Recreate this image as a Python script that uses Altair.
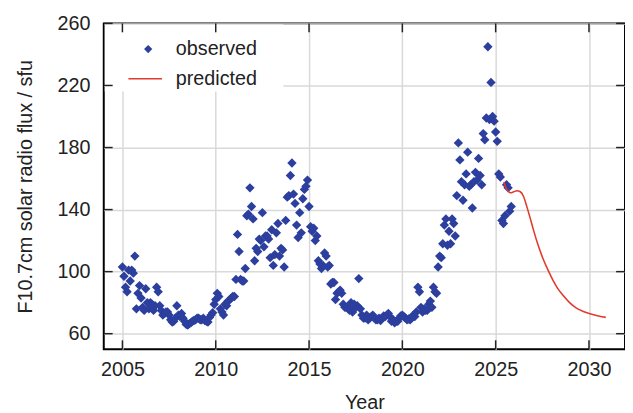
import altair as alt
import pandas as pd

# Monthly observed F10.7 (sfu), one list per year, January first
obs_2005 = [103, 97, 90, 87, 101, 94, 101, 99, 110, 76, 86, 91]
obs_2006 = [83, 77, 75, 89, 80, 76, 80, 79, 75, 78, 90, 87]
obs_2007 = [78, 75, 72, 73, 74, 74, 72, 69, 67.5, 68, 70, 78]
obs_2008 = [72, 71, 73, 70, 68, 66, 65.5, 66.5, 67, 68, 68.5, 69]
obs_2009 = [70, 70, 69, 69, 70, 68.5, 68, 67.5, 70.5, 72, 73.5, 79]
obs_2010 = [82, 86, 84, 76, 74, 72, 79, 78, 81, 82, 83, 84]
obs_2011 = [84, 95, 124, 113, 95, 94, 94, 102, 136, 137, 154, 142]
obs_2012 = [134, 107, 115, 113, 121, 120, 138, 116, 123, 123, 121, 109]
obs_2013 = [127, 104, 111, 125, 131, 110, 115, 114, 103, 133, 148, 149]
obs_2014 = [162, 170, 150, 144, 130, 122, 138, 125, 147, 153, 155, 159]
obs_2015 = [142, 129, 126, 128, 120, 123, 107, 105, 102, 104, 112, 110]
obs_2016 = [103, 104, 92, 93, 93, 82, 86, 87, 88, 86, 79, 77]
obs_2017 = [77, 77, 75, 80, 74, 79, 77, 78, 95.5, 76, 72, 70]
obs_2018 = [70, 72, 69, 70, 71, 72, 70, 69, 69, 70, 68.5, 70]
obs_2019 = [71.5, 71, 72, 73, 71, 68, 69, 67, 68, 68, 70, 71.5]
obs_2020 = [72, 71, 70, 69, 69.5, 69, 70, 72, 71, 74, 90, 87]
obs_2021 = [77, 74, 76, 75, 75, 79, 81, 77, 90, 87, 86, 103]
obs_2022 = [110, 109, 118, 130, 134, 117, 126, 118, 134, 131, 123, 149]
obs_2023 = [183, 172, 158, 146, 156, 163, 177, 155, 156, 141, 158, 164]
obs_2024 = [159, 173, 162, 156, 189, 185, 199, 245, 198, 222, 200, 197]
obs_2025 = [190, 184, 163, 161, 133, 131, 136, 156, 154, 139, 142]

obs_years = {
    2005: obs_2005, 2006: obs_2006, 2007: obs_2007, 2008: obs_2008,
    2009: obs_2009, 2010: obs_2010, 2011: obs_2011, 2012: obs_2012,
    2013: obs_2013, 2014: obs_2014, 2015: obs_2015, 2016: obs_2016,
    2017: obs_2017, 2018: obs_2018, 2019: obs_2019, 2020: obs_2020,
    2021: obs_2021, 2022: obs_2022, 2023: obs_2023, 2024: obs_2024,
    2025: obs_2025,
}

# Predicted curve
pred_t = [2025.44, 2025.53, 2025.65, 2025.79, 2025.97, 2026.14, 2026.32, 2026.5,
          2026.67, 2026.85, 2027.02, 2027.29, 2027.55, 2027.82, 2028.08, 2028.34,
          2028.61, 2028.96, 2029.31, 2029.66, 2030.01, 2030.45, 2030.9]
pred_v = [157.8, 154.6, 152.1, 150.8, 151.5, 152.1, 151.5, 148.3,
          141.9, 134.5, 127.1, 116.5, 108, 100.6, 94.2, 88.9,
          84.7, 80, 76.6, 74.5, 73, 71.6, 70.5]

x_ticks = [2005, 2010, 2015, 2020, 2025, 2030]
y_ticks = [60, 100, 140, 180, 220, 260]

obs_rows = []
for yr, vals in obs_years.items():
    for i, v in enumerate(vals):
        obs_rows.append({"t": yr + i / 12.0, "v": v, "s_obs": "observed"})
obs_df = pd.DataFrame(obs_rows)
pred_df = pd.DataFrame({"t": pred_t, "v": pred_v, "s_pred": "predicted"})
xt_df = pd.DataFrame({"t": x_ticks})
yt_df = pd.DataFrame({"v": y_ticks})

W, H = 528, 330
FONT = "Liberation Sans"
TICK = 9

xscale = alt.Scale(domain=[2004, 2031.93], nice=False, zero=False)
yscale = alt.Scale(domain=[50, 260], nice=False, zero=False)
xaxis = alt.Axis(values=x_ticks, format="d", title="Year", grid=True,
                 gridColor="#d9d9d9", gridWidth=1.5, domain=False, ticks=False,
                 tickSize=0, labelFont=FONT, labelFontSize=20, labelColor="#222",
                 labelPadding=11, titleFont=FONT, titleFontSize=20,
                 titleFontWeight="normal", titleColor="#222", titlePadding=13)
yaxis = alt.Axis(values=y_ticks, title="F10.7cm solar radio flux / sfu", grid=True,
                 gridColor="#d9d9d9", gridWidth=1.5, domain=False, ticks=False,
                 tickSize=0, labelFont=FONT, labelFontSize=20, labelColor="#222",
                 labelPadding=14, titleFont=FONT, titleFontSize=20,
                 titleFontWeight="normal", titleColor="#222", titlePadding=22)

X = alt.X("t:Q", scale=xscale, axis=xaxis)
Y = alt.Y("v:Q", scale=yscale, axis=yaxis)

legend_bg = alt.Chart(alt.Data(values=[{"a": 1}])).mark_rect(
    color="white", opacity=1
).encode(x=alt.value(1), x2=alt.value(182), y=alt.value(1), y2=alt.value(69))

tick_col = "#222222"
bottom_ticks = alt.Chart(xt_df).mark_rule(color=tick_col, strokeWidth=1.5).encode(
    x=X, y=alt.value(H), y2=alt.value(H - TICK))
top_ticks = alt.Chart(xt_df).mark_rule(color=tick_col, strokeWidth=1.5).encode(
    x=X, y=alt.value(0), y2=alt.value(TICK))
left_ticks = alt.Chart(yt_df).mark_rule(color=tick_col, strokeWidth=1.5).encode(
    y=Y, x=alt.value(0), x2=alt.value(TICK))
right_ticks = alt.Chart(yt_df).mark_rule(color=tick_col, strokeWidth=1.5).encode(
    y=Y, x=alt.value(W), x2=alt.value(W - TICK))

points = alt.Chart(obs_df).mark_point(
    shape="diamond", filled=True, size=90, opacity=1, strokeWidth=0
).encode(
    x=X, y=Y,
    fill=alt.Fill("s_obs:N", scale=alt.Scale(domain=["observed"], range=["#2c3f9e"]),
                  legend=alt.Legend(orient="none", legendX=35, legendY=16, title=None,
                                    padding=0, symbolType="diamond", symbolSize=70,
                                    symbolStrokeWidth=0, labelOffset=18,
                                    labelFont=FONT, labelFontSize=20,
                                    labelColor="#222", labelLimit=300)),
)

line = alt.Chart(pred_df).mark_line(strokeWidth=1.6, interpolate="monotone").encode(
    x=X, y=Y,
    stroke=alt.Stroke("s_pred:N", scale=alt.Scale(domain=["predicted"], range=["#e23b2e"]),
                      legend=alt.Legend(orient="none", legendX=24, legendY=38, title=None,
                                        padding=0, symbolType="stroke", symbolSize=1156,
                                        symbolStrokeWidth=1.6, labelOffset=13,
                                        labelFont=FONT, labelFontSize=20,
                                        labelColor="#222", labelLimit=300)),
)

chart = alt.layer(
    legend_bg, bottom_ticks, top_ticks, left_ticks, right_ticks, points, line
).properties(
    width=W, height=H,
    padding={"left": 97, "top": 13, "right": 0, "bottom": 62},
    autosize=alt.AutoSizeParams(type="none"),
).configure(
    background="white"
).configure_view(
    stroke="black", strokeWidth=2
)

chart.save("out.html", embed_options={"renderer": "svg", "actions": False})
